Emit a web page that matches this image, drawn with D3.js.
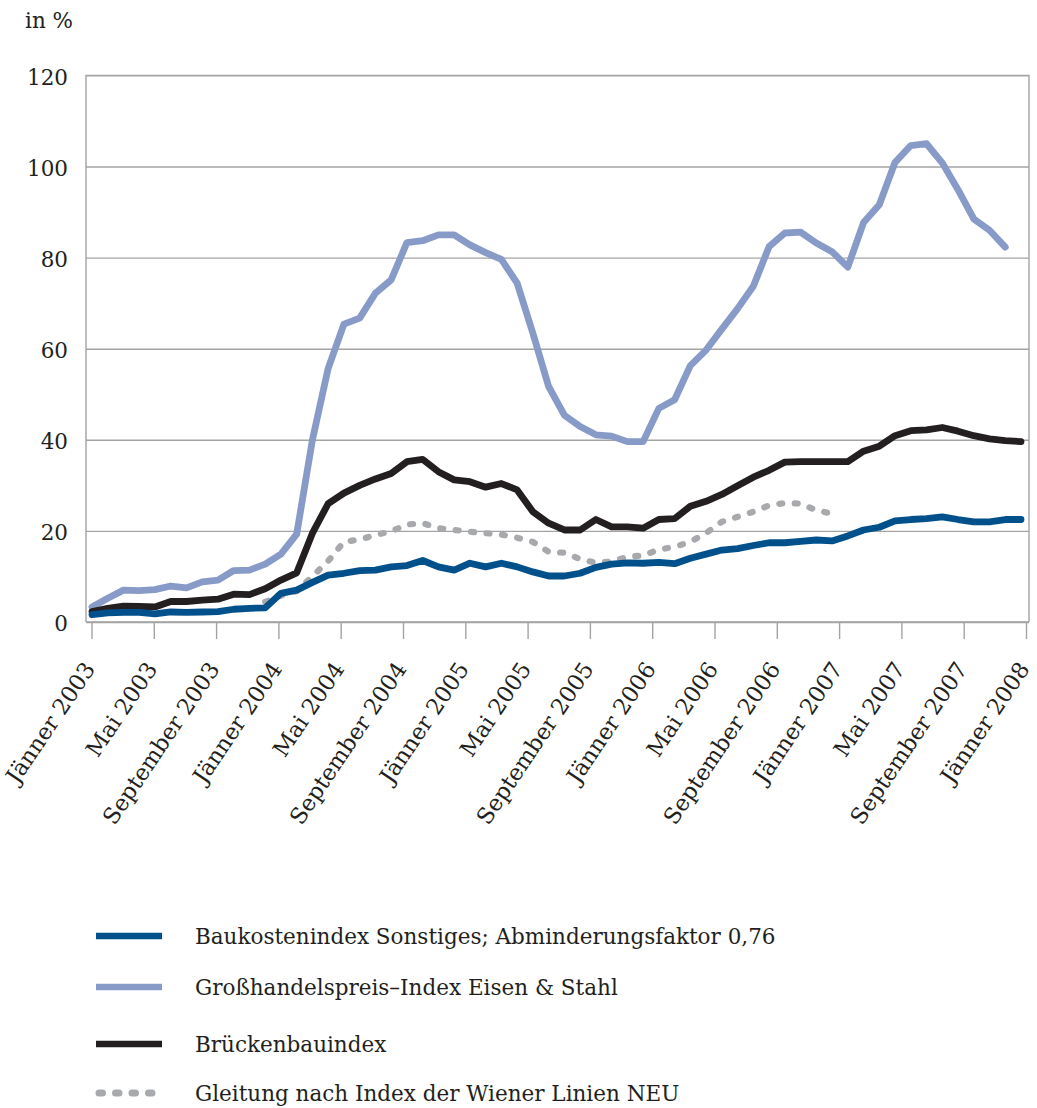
<!DOCTYPE html>
<html>
<head>
<meta charset="utf-8">
<script src="https://cdn.jsdelivr.net/npm/d3@7/dist/d3.min.js"></script>
<style>
body { margin: 0; background: #fff; }
svg text { font-family: "DejaVu Serif", serif; fill: #231f20; }
</style>
</head>
<body>
<script>
//tick labels on the x axis, one every 4 months
var tickLabels = ["Jänner 2003", "Mai 2003", "September 2003", "Jänner 2004", "Mai 2004", "September 2004",
  "Jänner 2005", "Mai 2005", "September 2005", "Jänner 2006", "Mai 2006", "September 2006",
  "Jänner 2007", "Mai 2007", "September 2007", "Jänner 2008"];
var yTicks = [0, 20, 40, 60, 80, 100, 120];

//monthly values in %, starting Jänner 2003
var baukosten = [1.6, 2.0, 2.1, 2.1, 1.8, 2.2, 2.1, 2.2, 2.3, 2.8, 3.0, 3.1,
  6.3, 7.0, 8.7, 10.3, 10.7, 11.3, 11.4, 12.1, 12.4, 13.5, 12.1, 11.4,
  12.9, 12.1, 12.9, 12.1, 11.0, 10.1, 10.1, 10.7, 12.0, 12.7, 13.0, 12.9,
  13.1, 12.8, 14.0, 14.9, 15.8, 16.1, 16.8, 17.4, 17.4, 17.7, 18.0, 17.8,
  18.9, 20.2, 20.8, 22.2, 22.5, 22.7, 23.1, 22.5, 22.0, 22.0, 22.5, 22.5];

var grosshandel = [3.3, 5.2, 7.0, 6.9, 7.1, 7.9, 7.5, 8.8, 9.2, 11.3, 11.4, 12.7,
  14.9, 19.3, 40.0, 55.7, 65.4, 66.7, 72.2, 75.1, 83.3, 83.7, 85.0, 85.0,
  82.8, 81.1, 79.6, 74.4, 63.4, 51.7, 45.4, 42.9, 41.1, 40.8, 39.6, 39.6,
  46.9, 48.8, 56.3, 59.7, 64.3, 68.8, 73.7, 82.4, 85.4, 85.6, 83.2, 81.3,
  77.9, 87.7, 91.6, 100.9, 104.6, 105.0, 100.8, 94.9, 88.5, 86.0, 82.3];

var brueckenbau = [2.3, 3.0, 3.5, 3.4, 3.3, 4.5, 4.5, 4.8, 5.0, 6.1, 6.0, 7.3,
  9.2, 10.8, 19.5, 26.0, 28.3, 30.0, 31.4, 32.6, 35.2, 35.7, 33.0, 31.2,
  30.8, 29.6, 30.4, 29.0, 24.2, 21.7, 20.2, 20.2, 22.5, 20.9, 20.9, 20.6,
  22.5, 22.7, 25.4, 26.5, 28.0, 29.9, 31.8, 33.3, 35.1, 35.2, 35.2, 35.2,
  35.2, 37.5, 38.6, 40.9, 42.0, 42.2, 42.7, 41.9, 40.9, 40.2, 39.8, 39.6];

var gleitung = [null, null, null, null, null, null, null, null, null, null, null, 4.4,
  5.8, 6.8, 10.0, 13.4, 17.6, 18.1, 19.1, 19.9, 21.4, 21.7, 20.6, 20.2,
  19.8, 19.5, 19.2, 18.5, 17.6, 15.4, 15.2, 13.8, 13.0, 13.3, 14.3, 14.6,
  15.9, 16.5, 17.6, 19.5, 22.0, 23.1, 24.2, 25.6, 26.1, 26.0, 24.5, 23.8];

var seriesNames = ["Baukostenindex Sonstiges; Abminderungsfaktor 0,76",
  "Großhandelspreis–Index Eisen & Stahl",
  "Brückenbauindex",
  "Gleitung nach Index der Wiener Linien NEU"];
var seriesColors = ["#00508c", "#889bc8", "#231f20", "#a7a9ac"];

//plot area (plotTop, since "top" is taken by window.top)
var plotLeft = 86, plotRight = 1029, plotTop = 75.4, plotBottom = 622;

var svg = d3.select("body").append("svg")
  .attr("width", 1037)
  .attr("height", 1108);

//scale for the data points, and one for the axis labels
var x = d3.scaleLinear().domain([0, baukosten.length - 1]).range([92, 1021]);
var xLab = d3.scalePoint().domain(tickLabels).range([91.5, 1026]);
var y = d3.scaleLinear().domain([0, 120]).range([plotBottom, plotTop]);

//gridlines and y labels
var yAxis = svg.append("g")
  .attr("transform", "translate(" + plotLeft + ",0)")
  .call(d3.axisLeft(y).tickValues(yTicks).tickSize(-(plotRight - plotLeft)).tickPadding(18));
yAxis.select(".domain").remove();
yAxis.selectAll("line").attr("stroke", "#a3a3a3").attr("stroke-width", 1.4);
yAxis.selectAll("text")
  .attr("font-size", 21.5)
  .attr("dy", "0.4em");

//frame of the plot
svg.append("path")
  .attr("d", "M" + plotLeft + "," + plotBottom + "V" + plotTop + "H" + plotRight + "V" + plotBottom)
  .attr("fill", "none")
  .attr("stroke", "#a3a3a3")
  .attr("stroke-width", 1.4);

//x axis with rotated labels
var xAxis = svg.append("g")
  .attr("transform", "translate(0," + plotBottom + ")")
  .call(d3.axisBottom(xLab).tickSize(17).tickSizeOuter(0));
xAxis.select(".domain")
  .attr("d", "M" + plotLeft + ",0H" + plotRight)
  .attr("stroke", "#a3a3a3").attr("stroke-width", 1.4);
xAxis.selectAll("line").attr("stroke", "#a3a3a3").attr("stroke-width", 1.4);
xAxis.selectAll("text")
  .attr("font-size", 22.5)
  .attr("text-anchor", "end")
  .attr("x", 0).attr("y", 0).attr("dy", 0)
  .attr("transform", "translate(4,47) rotate(-56)");

var line = d3.line()
  .defined(function(d) { return d != null; })
  .x(function(d, i) { return x(i); })
  .y(function(d) { return y(d); });

//light blue, black, dotted grey, then dark blue on top
svg.append("path").datum(grosshandel)
  .attr("d", line).attr("fill", "none")
  .attr("stroke", seriesColors[1]).attr("stroke-width", 6.8)
  .attr("stroke-linejoin", "round").attr("stroke-linecap", "round");

svg.append("path").datum(brueckenbau)
  .attr("d", line).attr("fill", "none")
  .attr("stroke", seriesColors[2]).attr("stroke-width", 6.8)
  .attr("stroke-linejoin", "round").attr("stroke-linecap", "round");

svg.append("path").datum(gleitung)
  .attr("d", line).attr("fill", "none")
  .attr("stroke", seriesColors[3]).attr("stroke-width", 6.2)
  .attr("stroke-dasharray", "3 12.5")
  .attr("stroke-linecap", "round");

svg.append("path").datum(baukosten)
  .attr("d", line).attr("fill", "none")
  .attr("stroke", seriesColors[0]).attr("stroke-width", 6.8)
  .attr("stroke-linejoin", "round").attr("stroke-linecap", "round");

//unit label
svg.append("text")
  .attr("x", 25).attr("y", 28)
  .attr("font-size", 21.5)
  .text("in %");

//legend
var legendY = [936, 987, 1044, 1093];
var legend = svg.append("g").selectAll("g")
  .data(seriesNames)
  .enter().append("g")
  .attr("transform", function(d, i) { return "translate(0," + legendY[i] + ")"; });

legend.append("line")
  .attr("x1", function(d, i) { return i == 3 ? 99 : 96; })
  .attr("x2", function(d, i) { return i == 3 ? 160 : 162; })
  .attr("stroke", function(d, i) { return seriesColors[i]; })
  .attr("stroke-width", function(d, i) { return i == 3 ? 7 : 6.5; })
  .attr("stroke-dasharray", function(d, i) { return i == 3 ? "3.5 13" : null; })
  .attr("stroke-linecap", function(d, i) { return i == 3 ? "round" : "butt"; });

legend.append("text")
  .attr("x", 195)
  .attr("dy", "0.35em")
  .attr("font-size", 21.5)
  .text(function(d) { return d; });
</script>
</body>
</html>
